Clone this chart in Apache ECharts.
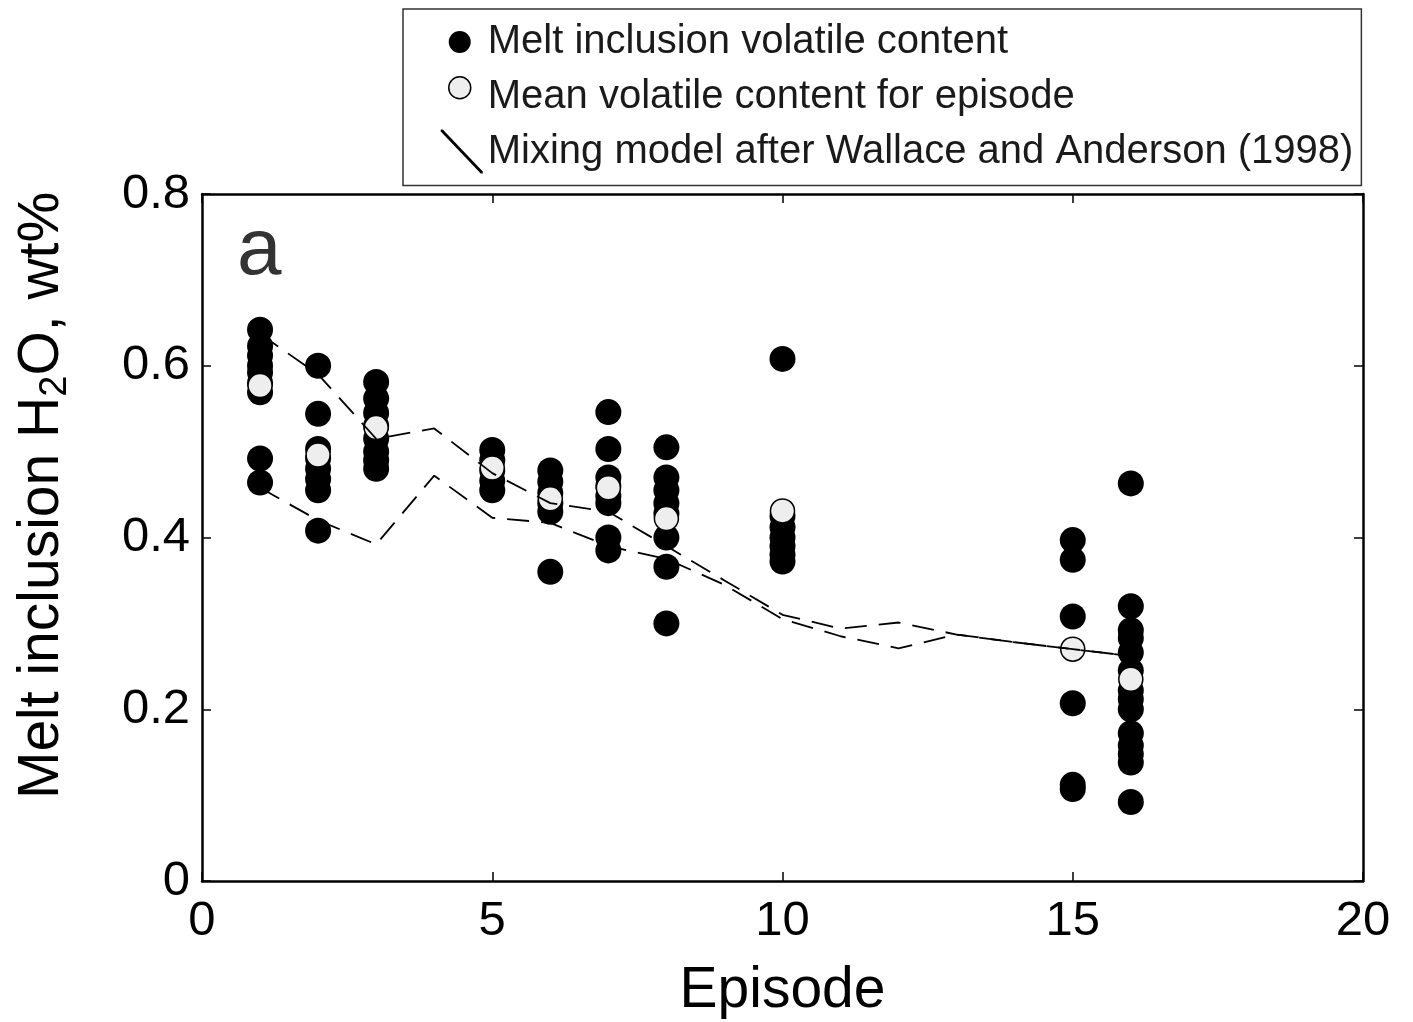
<!DOCTYPE html>
<html>
<head>
<meta charset="utf-8">
<script src="https://cdn.jsdelivr.net/npm/echarts@6/dist/echarts.min.js"></script>
<style>
html,body{margin:0;padding:0;background:#fff;overflow:hidden;}
#chart{width:1413px;height:1022px;}
</style>
</head>
<body>
<div id="chart"></div>
<script>
// ---- data ----
const episodes = [1, 2, 3, 5, 6, 7, 8, 10, 15, 16];
const meltH2O = [
  [0.642, 0.623, 0.612, 0.600, 0.592, 0.580, 0.569, 0.492, 0.464],
  [0.600, 0.544, 0.503, 0.492, 0.480, 0.468, 0.455, 0.408],
  [0.581, 0.562, 0.545, 0.530, 0.515, 0.500, 0.490, 0.480],
  [0.502, 0.490, 0.478, 0.466, 0.455],
  [0.478, 0.465, 0.452, 0.440, 0.430, 0.360],
  [0.546, 0.503, 0.470, 0.460, 0.448, 0.440, 0.400, 0.385],
  [0.505, 0.470, 0.455, 0.440, 0.428, 0.400, 0.366, 0.300],
  [0.608, 0.425, 0.412, 0.400, 0.390, 0.380, 0.372],
  [0.397, 0.374, 0.308, 0.207, 0.112, 0.107],
  [0.463, 0.320, 0.292, 0.283, 0.266, 0.245, 0.222, 0.212, 0.200, 0.172, 0.158, 0.148, 0.138, 0.092]
];
const meanH2O = [0.577, 0.496, 0.528, 0.481, 0.445, 0.458, 0.422, 0.431, 0.270, 0.235];
const mixEpisodes = [1, 2, 3, 4, 5, 6, 7, 8, 9, 10, 11, 12, 13, 14, 15, 16];
const mixUpper = [0.637, 0.590, 0.515, 0.527, 0.475, 0.440, 0.430, 0.390, 0.350, 0.310, 0.294, 0.301, 0.287, 0.278, 0.270, 0.262];
const mixLower = [0.458, 0.420, 0.392, 0.472, 0.423, 0.417, 0.390, 0.375, 0.345, 0.305, 0.285, 0.271, 0.287, 0.278, 0.270, 0.262];
const xTicks = [0, 5, 10, 15, 20];
const yTicks = [0, 0.2, 0.4, 0.6, 0.8];
const names = ['Melt inclusion volatile content', 'Mean volatile content for episode', 'Mixing model after Wallace and Anderson (1998)'];

// ---- build series data ----
const meltPoints = [];
episodes.forEach((e, i) => meltH2O[i].forEach(v => meltPoints.push([e, v])));
const meanPoints = episodes.map((e, i) => [e, meanH2O[i]]);
const upperPts = mixEpisodes.map((e, i) => [e, mixUpper[i]]);
const lowerPts = mixEpisodes.map((e, i) => [e, mixLower[i]]);

const FONT = 'Liberation Sans, Arial, Helvetica, sans-serif';
const chart = echarts.init(document.getElementById('chart'));

const iconBlack = 'path://M0,0M42,44M30,22A11,11,0,1,1,8,22A11,11,0,1,1,30,22Z';
const iconLight = 'path://M0,0M42,44M30,13A11,11,0,1,1,8,13A11,11,0,1,1,30,13Z';
const iconLine = 'path://M0,0L2,0L42,42L42,44L40,44L0,2Z';

function axisBase() {
  return {
    type: 'value',
    axisLine: {show: true, onZero: false, lineStyle: {color: '#000', width: 2.5}},
    axisTick: {show: true, inside: true, length: 9, lineStyle: {color: '#000', width: 1.5}},
    splitLine: {show: false}
  };
}

chart.setOption({
  animation: false,
  backgroundColor: '#fff',
  grid: {left: 202, right: 50, top: 194, bottom: 141, containLabel: false, outerBoundsMode: 'none'},
  xAxis: [
    Object.assign(axisBase(), {
      min: 0, max: 20, interval: 5, position: 'bottom',
      name: 'Episode', nameLocation: 'middle', nameGap: 82,
      nameTextStyle: {fontSize: 57, fontFamily: FONT, color: '#000'},
      axisLabel: {fontSize: 49, fontFamily: FONT, color: '#000', margin: 16,
        formatter: v => xTicks.indexOf(v) >= 0 ? String(v) : ''}
    }),
    Object.assign(axisBase(), {
      min: 0, max: 20, interval: 5, position: 'top', axisLabel: {show: false}
    })
  ],
  yAxis: [
    Object.assign(axisBase(), {
      min: 0, max: 0.8, interval: 0.2, position: 'left',
      name: '{n|Melt inclusion H}{s|2}{n|O, wt%}', nameLocation: 'middle', nameGap: 127,
      nameTextStyle: {fontFamily: FONT, color: '#000', padding: [0, 0, 0, 84],
        rich: {n: {fontSize: 57, fontFamily: FONT, color: '#000'},
               s: {fontSize: 38, fontFamily: FONT, color: '#000', padding: [28, 0, 0, 0]}}},
      axisLabel: {fontSize: 49, fontFamily: FONT, color: '#000', margin: 12,
        formatter: v => { const t = yTicks.find(y => Math.abs(y - v) < 1e-9); return t === undefined ? '' : String(t); }}
    }),
    Object.assign(axisBase(), {
      min: 0, max: 0.8, interval: 0.2, position: 'right', axisLabel: {show: false}
    })
  ],
  legend: {
    orient: 'vertical', left: 403, top: 9,
    padding: [11, 8, 12, 37],
    itemWidth: 42, itemHeight: 44, itemGap: 10,
    borderColor: '#333', borderWidth: 1.5,
    textStyle: {fontSize: 40, fontFamily: FONT, color: '#1a1a1a'},
    data: [
      {name: names[0], icon: iconBlack, itemStyle: {color: '#000'}},
      {name: names[1], icon: iconLight, itemStyle: {color: '#eeeeee', borderColor: '#000', borderWidth: 1.5}},
      {name: names[2], icon: iconLine, itemStyle: {color: '#000', borderWidth: 0}, lineStyle: {width: 0}}
    ],
    selectedMode: false
  },
  graphic: [{
    type: 'text', left: 237, top: 212, z: 10,
    style: {text: 'a', font: '80px ' + FONT, fill: '#333'}
  }],
  series: [
    {
      name: names[0], type: 'scatter', data: meltPoints, symbol: 'circle', symbolSize: 26,
      itemStyle: {color: '#000', opacity: 1}, z: 2
    },
    {
      name: names[1], type: 'scatter', data: meanPoints, symbol: 'circle', symbolSize: 24,
      itemStyle: {color: '#eeeeee', borderColor: '#000', borderWidth: 1.5, opacity: 1}, z: 3
    },
    {
      name: names[2], type: 'line', data: upperPts, showSymbol: false, symbol: 'none',
      lineStyle: {color: '#000', width: 1.8, type: [22, 12]}, itemStyle: {color: '#000'}, z: 4
    },
    {
      name: names[2], type: 'line', data: lowerPts, showSymbol: false, symbol: 'none',
      lineStyle: {color: '#000', width: 1.8, type: [22, 12]}, itemStyle: {color: '#000'}, z: 4
    }
  ]
});
</script>
</body>
</html>
